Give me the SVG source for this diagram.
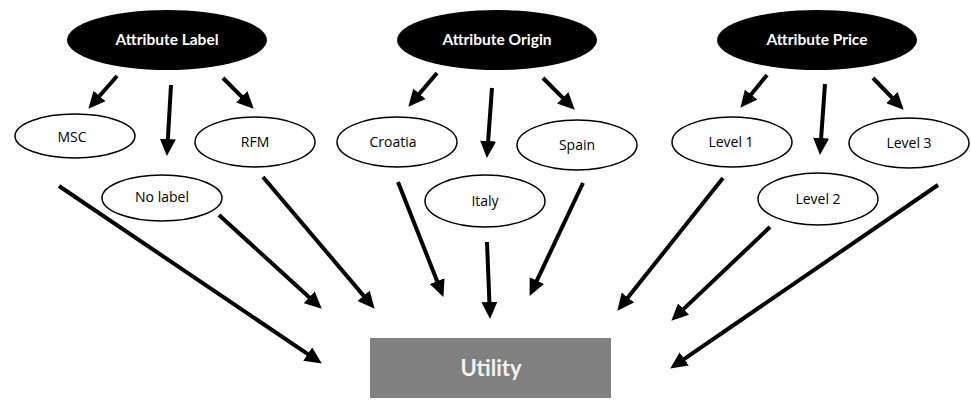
<svg xmlns="http://www.w3.org/2000/svg" width="971" height="401" viewBox="0 0 971 401">
<style>
.attr{fill:#000}
.attr-t{fill:#fff;font-family:Lato,"Open Sans",sans-serif;font-weight:bold;font-size:15.5px;text-anchor:middle;dominant-baseline:central}
.lvl{fill:#fff;stroke:#000;stroke-width:1.5}
.lvl-t{fill:#000;font-family:"Open Sans",sans-serif;font-size:14px;text-anchor:middle;dominant-baseline:central}
.conn line{stroke:#000;stroke-width:4;marker-end:url(#ah)}
</style>
<defs>
<marker id="ah" markerUnits="userSpaceOnUse" markerWidth="17" markerHeight="16" refX="10" refY="8" orient="auto">
<path d="M0,0 L17,8 L0,16 z" fill="#000"/>
</marker>
</defs>
<rect width="971" height="401" fill="#fff"/>
<g id="attr-label"><ellipse class="attr" cx="167" cy="40" rx="100" ry="30"/><text class="attr-t" x="167" y="39">Attribute Label</text></g>
<g id="attr-origin"><ellipse class="attr" cx="497" cy="40" rx="100" ry="30"/><text class="attr-t" x="497" y="39">Attribute Origin</text></g>
<g id="attr-price"><ellipse class="attr" cx="817" cy="40" rx="100" ry="30"/><text class="attr-t" x="817" y="39">Attribute Price</text></g>
<g id="msc"><ellipse class="lvl" cx="75" cy="136" rx="60" ry="22"/><text class="lvl-t" x="72" y="136">MSC</text></g>
<g id="nolabel"><ellipse class="lvl" cx="162" cy="198" rx="60" ry="23"/><text class="lvl-t" x="162" y="196">No label</text></g>
<g id="rfm"><ellipse class="lvl" cx="255" cy="142" rx="60" ry="25"/><text class="lvl-t" x="255" y="141">RFM</text></g>
<g id="croatia"><ellipse class="lvl" cx="397" cy="142" rx="60" ry="25"/><text class="lvl-t" x="393" y="141">Croatia</text></g>
<g id="italy"><ellipse class="lvl" cx="485" cy="201" rx="60" ry="26"/><text class="lvl-t" x="485" y="200">Italy</text></g>
<g id="spain"><ellipse class="lvl" cx="577" cy="145" rx="60" ry="25"/><text class="lvl-t" x="577" y="144">Spain</text></g>
<g id="level1"><ellipse class="lvl" cx="732" cy="142" rx="60" ry="25"/><text class="lvl-t" x="731" y="141">Level 1</text></g>
<g id="level2"><ellipse class="lvl" cx="818" cy="199" rx="60" ry="26"/><text class="lvl-t" x="818" y="198">Level 2</text></g>
<g id="level3"><ellipse class="lvl" cx="909" cy="143" rx="60" ry="25"/><text class="lvl-t" x="909" y="142">Level 3</text></g>
<g id="utility"><rect x="370" y="338" width="241" height="60" fill="#808080"/><text x="491" y="367" fill="#f2f2f2" font-family="Lato,'Open Sans',sans-serif" font-size="22" font-weight="bold" text-anchor="middle" dominant-baseline="central">Utility</text></g>
<g class="conn" id="connectors">
<line x1="117" y1="76" x2="93" y2="103.5"/>
<line x1="171" y1="85" x2="167.3" y2="149"/>
<line x1="223" y1="78" x2="248.8" y2="103.8"/>
<line x1="437" y1="73" x2="412.9" y2="101.4"/>
<line x1="492" y1="88" x2="487.4" y2="151"/>
<line x1="543" y1="78" x2="569.8" y2="104.8"/>
<line x1="767" y1="75" x2="744.8" y2="102.3"/>
<line x1="825" y1="84" x2="820.4" y2="148"/>
<line x1="873" y1="78" x2="898.8" y2="104.7"/>
<line x1="59" y1="186" x2="316" y2="359.6"/>
<line x1="219" y1="215" x2="316.6" y2="304"/>
<line x1="263" y1="177" x2="370.1" y2="303.4"/>
<line x1="398" y1="182" x2="440.8" y2="290.4"/>
<line x1="487" y1="242" x2="489.8" y2="312"/>
<line x1="583" y1="183" x2="532.6" y2="289.6"/>
<line x1="723" y1="178" x2="621.7" y2="305.3"/>
<line x1="770" y1="227" x2="676.4" y2="315.9"/>
<line x1="938" y1="185" x2="676" y2="364.6"/>
</g>
</svg>
